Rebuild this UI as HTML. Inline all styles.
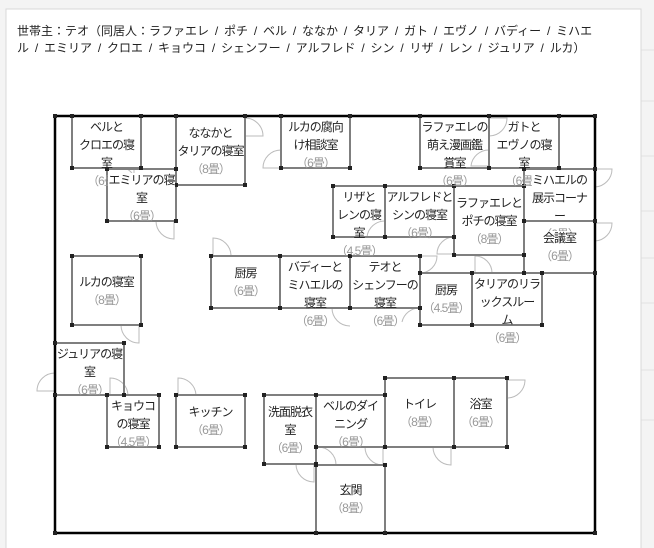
<!DOCTYPE html>
<html><head><meta charset="utf-8">
<style>
html,body{margin:0;padding:0;}
body{width:654px;height:548px;position:relative;overflow:hidden;background:#fff;font-family:"Liberation Sans","Noto Sans CJK JP",sans-serif;}
#bg{position:absolute;left:0;top:0;}
.hdr{position:absolute;left:17px;top:23px;font-size:12px;line-height:17px;color:#222;letter-spacing:0;word-spacing:2.5px;white-space:nowrap;}
.r{position:absolute;}
.r .t{position:absolute;left:-10px;right:-10px;text-align:center;font-size:12px;line-height:18px;letter-spacing:-1px;color:#222;}
.r .t span.a{color:#999;}
</style></head><body>
<svg id="bg" width="654" height="548" xmlns="http://www.w3.org/2000/svg">
<rect x="0" y="0" width="654" height="548" fill="#f4f4f4"/>
<g stroke="#e2e2e2" stroke-width="1">
<line x1="641" y1="50" x2="654" y2="50"/><line x1="641" y1="101" x2="654" y2="101"/><line x1="641" y1="156" x2="654" y2="156"/><line x1="641" y1="211" x2="654" y2="211"/>
<line x1="641" y1="258" x2="654" y2="258"/><line x1="641" y1="303" x2="654" y2="303"/><line x1="641" y1="370" x2="654" y2="370"/><line x1="641" y1="420" x2="654" y2="420"/>
</g>
<rect x="6" y="9" width="635" height="545" fill="#fff" stroke="#d8d8d8"/>
<g fill="none" stroke="#bbb" stroke-width="1">
<path d="M245,118 A18,18 0 0 1 263,136 L245,136"/>
<path d="M281,150 A18,18 0 0 0 263,168 L281,168"/>
<path d="M122,168 A12,12 0 0 1 134,180 L134,168"/>
<path d="M156,221 A18,18 0 0 0 174,239 L174,221"/>
<path d="M213,256 L213,238 A18,18 0 0 1 231,256"/>
<path d="M121,325 A18,18 0 0 0 139,343 L139,325"/>
<path d="M55,373 A18,18 0 0 0 37,391 L55,391"/>
<path d="M110,395 L110,378 A18,18 0 0 1 128,395"/>
<path d="M178,395 L178,378 A18,18 0 0 1 196,395"/>
<path d="M296,464 A18,18 0 0 0 314,482 L314,464"/>
<path d="M318,447 A18,18 0 0 1 336,465"/>
<path d="M365,447 A18,18 0 0 0 383,465 L383,447"/>
<path d="M433,447 A18,18 0 0 0 451,465 L451,447"/>
<path d="M507,380 L525,380 A18,18 0 0 1 507,398"/>
<path d="M332,308 A18,18 0 0 0 350,326"/>
<path d="M420,308 A18,18 0 0 0 402,322"/>
<path d="M420,256 L437,256 A17,17 0 0 1 420,273"/>
<path d="M385,221 A18,18 0 0 0 367,237 L385,237"/>
<path d="M454,237 A17,17 0 0 0 437,254 L454,254"/>
<path d="M475,273 L475,256 A17,17 0 0 1 492,273"/>
<path d="M595,169 L612,169 A18,18 0 0 1 595,187"/>
<path d="M595,223 L612,223 A18,18 0 0 1 595,241"/>
<path d="M489,118 L507,118 A18,18 0 0 1 489,136"/>
<path d="M489,150 A18,18 0 0 0 471,166 L489,166"/>
</g>
<g fill="none" stroke="#7f7f7f" stroke-width="2">
<rect x="72" y="116" width="69" height="52"/>
<rect x="176" y="116" width="69" height="69"/>
<rect x="107" y="169" width="69" height="52"/>
<rect x="281" y="116" width="69" height="52"/>
<rect x="72" y="256" width="69" height="69"/>
<rect x="211" y="256" width="69" height="52"/>
<rect x="280" y="256" width="70" height="52"/>
<rect x="333" y="186" width="52" height="51"/>
<rect x="385" y="186" width="69" height="51"/>
<rect x="454" y="186" width="70" height="69"/>
<rect x="420" y="116" width="69" height="52"/>
<rect x="489" y="116" width="70" height="52"/>
<rect x="524" y="169" width="71" height="52"/>
<rect x="524" y="221" width="71" height="52"/>
<rect x="350" y="256" width="70" height="52"/>
<rect x="420" y="273" width="52" height="52"/>
<rect x="472" y="273" width="70" height="52"/>
<rect x="55" y="343" width="69" height="52"/>
<rect x="107" y="395" width="52" height="52"/>
<rect x="176" y="395" width="69" height="52"/>
<rect x="264" y="395" width="52" height="69"/>
<rect x="316" y="395" width="69" height="52"/>
<rect x="385" y="378" width="69" height="69"/>
<rect x="454" y="378" width="53" height="69"/>
<rect x="316" y="465" width="69" height="68"/>
</g>
<rect x="55" y="116" width="540" height="417" fill="none" stroke="#000" stroke-width="2.5"/>
<g fill="#222" id="nodes"></g>
</svg>

<div class="hdr">世帯主：テオ（同居人：ラファエレ / ポチ / ベル / ななか / タリア / ガト / エヴノ / バディー / ミハエ<br>ル / エミリア / クロエ / キョウコ / シェンフー / アルフレド / シン / リザ / レン / ジュリア / ルカ）</div>

<div class="r" style="left:72px;top:116px;width:69px;height:52px"><div class="t">ベルと<br>クロエの寝<br>室<br><span class="a">（6畳）</span></div></div>
<div class="r" style="left:176px;top:116px;width:69px;height:69px"><div class="t">ななかと<br>タリアの寝室<br><span class="a">（8畳）</span></div></div>
<div class="r" style="left:107px;top:169px;width:69px;height:52px"><div class="t"><span style="background:#fff">エミリアの寝</span><br>室<br><span class="a">（6畳）</span></div></div>
<div class="r" style="left:281px;top:116px;width:69px;height:52px"><div class="t">ルカの腐向<br>け相談室<br><span class="a">（6畳）</span></div></div>
<div class="r" style="left:72px;top:256px;width:69px;height:69px"><div class="t">ルカの寝室<br><span class="a">（8畳）</span></div></div>
<div class="r" style="left:211px;top:256px;width:69px;height:52px"><div class="t">厨房<br><span class="a">（6畳）</span></div></div>
<div class="r" style="left:280px;top:256px;width:70px;height:52px"><div class="t">バディーと<br>ミハエルの<br>寝室<br><span class="a">（6畳）</span></div></div>
<div class="r" style="left:333px;top:186px;width:52px;height:51px"><div class="t">リザと<br>レンの寝<br>室<br><span class="a">（4.5畳）</span></div></div>
<div class="r" style="left:385px;top:186px;width:69px;height:51px"><div class="t">アルフレドと<br>シンの寝室<br><span class="a">（6畳）</span></div></div>
<div class="r" style="left:454px;top:186px;width:70px;height:69px"><div class="t">ラファエレと<br>ポチの寝室<br><span class="a">（8畳）</span></div></div>
<div class="r" style="left:420px;top:116px;width:69px;height:52px"><div class="t">ラファエレの<br>萌え漫画鑑<br>賞室<br><span class="a">（6畳）</span></div></div>
<div class="r" style="left:489px;top:116px;width:70px;height:52px"><div class="t">ガトと<br>エヴノの寝<br>室<br><span class="a">（6畳）</span></div></div>
<div class="r" style="left:524px;top:169px;width:71px;height:52px"><div class="t"><span style="background:#fff">ミハエルの</span><br>展示コーナ<br>ー<br><span class="a">（6畳）</span></div></div>
<div class="r" style="left:524px;top:221px;width:71px;height:52px"><div class="t"><span style="background:#fff">会議室</span><br><span class="a">（6畳）</span></div></div>
<div class="r" style="left:350px;top:256px;width:70px;height:52px"><div class="t">テオと<br>シェンフーの<br>寝室<br><span class="a">（6畳）</span></div></div>
<div class="r" style="left:420px;top:273px;width:52px;height:52px"><div class="t">厨房<br><span class="a">（4.5畳）</span></div></div>
<div class="r" style="left:472px;top:273px;width:70px;height:52px"><div class="t">タリアのリラ<br>ックスルー<br>ム<br><span class="a">（6畳）</span></div></div>
<div class="r" style="left:55px;top:343px;width:69px;height:52px"><div class="t">ジュリアの寝<br>室<br><span class="a">（6畳）</span></div></div>
<div class="r" style="left:107px;top:395px;width:52px;height:52px"><div class="t">キョウコ<br>の寝室<br><span class="a">（4.5畳）</span></div></div>
<div class="r" style="left:176px;top:395px;width:69px;height:52px"><div class="t">キッチン<br><span class="a">（6畳）</span></div></div>
<div class="r" style="left:264px;top:395px;width:52px;height:69px"><div class="t">洗面脱衣<br>室<br><span class="a">（6畳）</span></div></div>
<div class="r" style="left:316px;top:395px;width:69px;height:52px"><div class="t">ベルのダイ<br>ニング<br><span class="a">（6畳）</span></div></div>
<div class="r" style="left:385px;top:378px;width:69px;height:69px"><div class="t">トイレ<br><span class="a">（8畳）</span></div></div>
<div class="r" style="left:454px;top:378px;width:53px;height:69px"><div class="t">浴室<br><span class="a">（6畳）</span></div></div>
<div class="r" style="left:316px;top:465px;width:69px;height:68px"><div class="t">玄関<br><span class="a">（8畳）</span></div></div>

<script>
document.querySelectorAll('.r').forEach(function(r){
  var t=r.querySelector('.t');var h=r.clientHeight;var th=t.offsetHeight;
  t.style.top=(th>h-2?2:(h-th)/2)+'px';
});
var pts=[[55,116],[595,116],[55,533],[595,533]];
document.querySelectorAll('svg g[stroke="#7f7f7f"] rect').forEach(function(e){
  var x=+e.getAttribute('x'),y=+e.getAttribute('y'),w=+e.getAttribute('width'),h=+e.getAttribute('height');
  pts.push([x,y],[x+w,y],[x,y+h],[x+w,y+h]);
});
var g=document.getElementById('nodes'),s='';
pts.forEach(function(p){s+='<rect x="'+(p[0]-2)+'" y="'+(p[1]-2)+'" width="4" height="4"/>';});
g.innerHTML=s;
</script>
</body></html>
